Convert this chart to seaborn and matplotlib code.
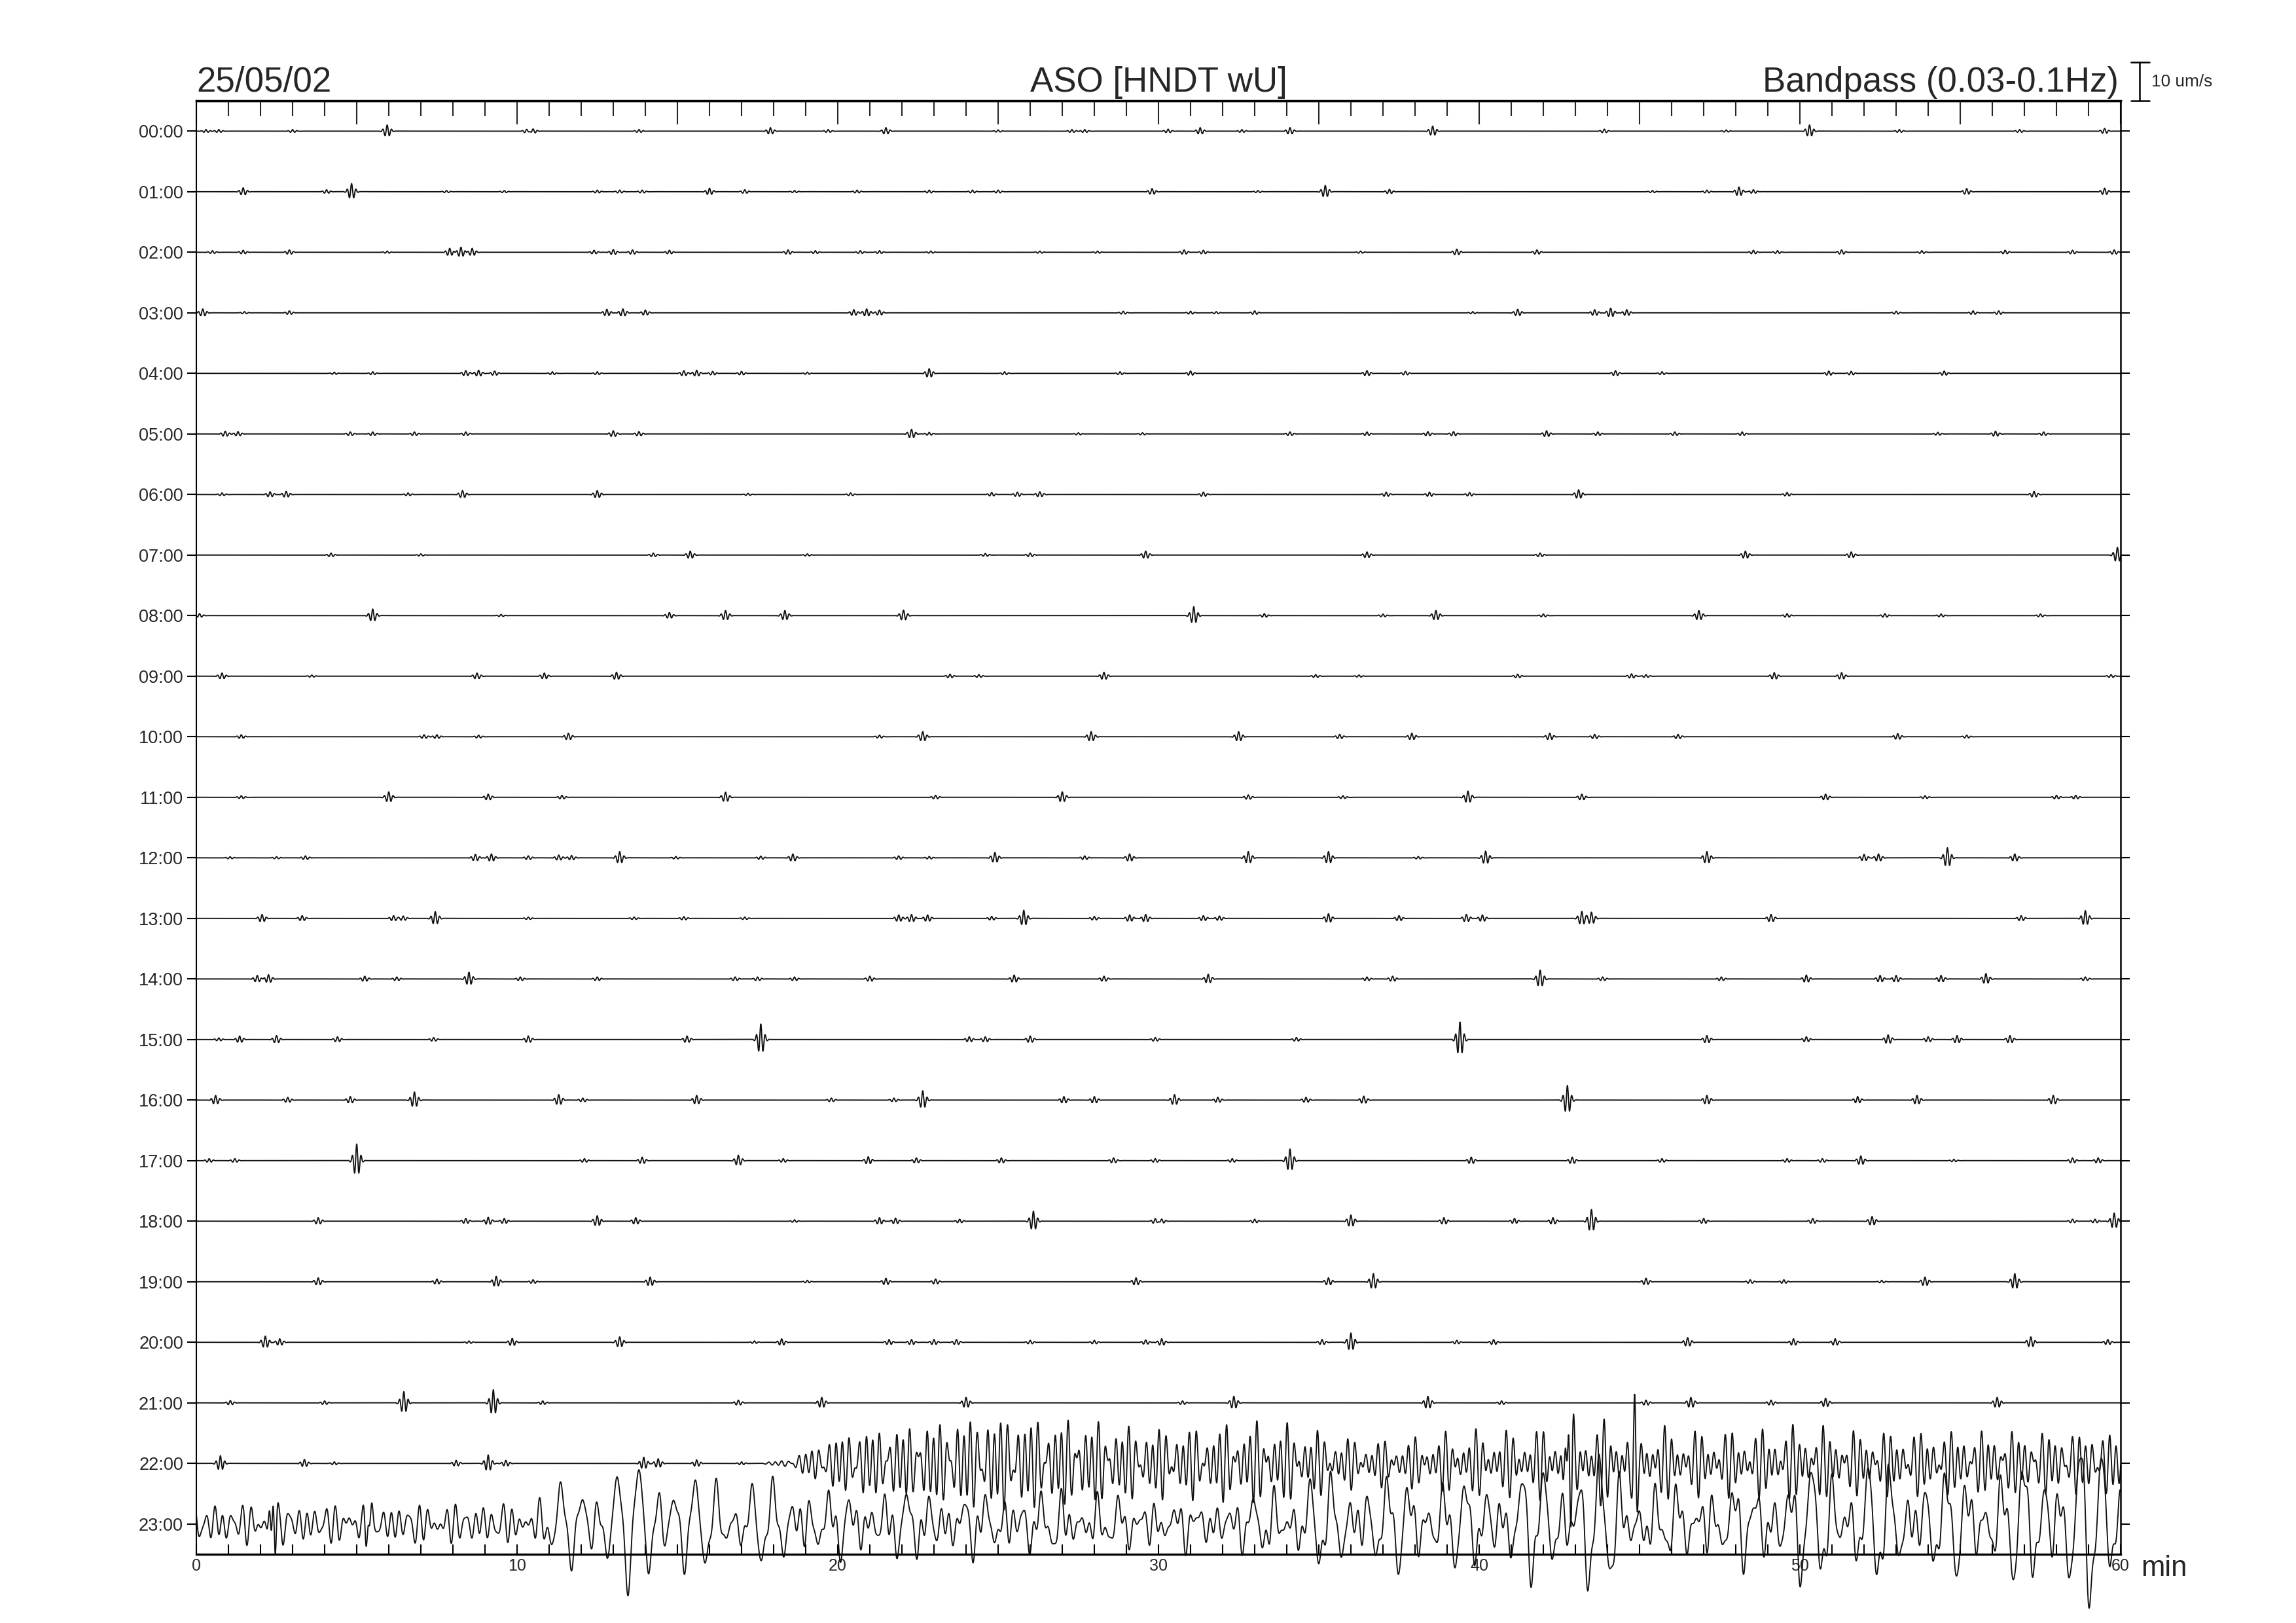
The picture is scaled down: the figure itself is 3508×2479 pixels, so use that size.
import numpy as np
import pandas as pd
import matplotlib
matplotlib.use("Agg")
import matplotlib.pyplot as plt
import seaborn as sns
from matplotlib.ticker import MultipleLocator

# --- header texts ---
DATE_LABEL = "25/05/02"
STATION = "ASO [HNDT wU]"
FILTER_LABEL = "Bandpass (0.03-0.1Hz)"
SCALE_UMS = 10
HOURS = [f"{h:02d}:00" for h in range(24)]
X_TICKS = [0, 10, 20, 30, 40, 50, 60]

# --- discrete wave packets per hour: (minute, peak amplitude in um/s) ---
EV_00 = [(0.3, 0.4), (0.7, 0.4), (3.0, 0.4), (5.95, 1.6), (10.3, 0.5), (10.5, 0.6), (13.8, 0.4),
         (17.9, 0.9), (19.7, 0.4), (21.5, 0.9), (25.0, 0.3), (27.3, 0.4), (27.7, 0.4), (30.3, 0.5),
         (31.3, 0.9), (32.6, 0.4), (34.1, 0.9), (38.55, 1.3), (43.9, 0.5), (47.7, 0.3), (50.3, 1.6),
         (53.1, 0.4), (56.85, 0.4), (59.5, 0.7)]
EV_01 = [(1.46, 1.0), (4.06, 0.5), (4.84, 2.1), (7.8, 0.3), (9.6, 0.3), (12.5, 0.4), (13.2, 0.4),
         (13.9, 0.4), (16.0, 0.9), (17.1, 0.5), (18.65, 0.3), (20.6, 0.4), (22.85, 0.4), (24.2, 0.4),
         (25.0, 0.4), (29.8, 0.8), (33.1, 0.3), (35.2, 1.6), (37.2, 0.6), (45.4, 0.3), (47.1, 0.4),
         (48.1, 1.2), (48.55, 0.5), (55.2, 0.8), (59.5, 0.9)]
EV_02 = [(0.5, 0.4), (1.46, 0.5), (2.9, 0.6), (5.95, 0.3), (7.9, 1.0), (8.25, 1.3), (8.6, 1.0),
         (12.4, 0.5), (13.0, 0.7), (13.6, 0.6), (14.75, 0.5), (18.45, 0.6), (19.3, 0.4), (20.7, 0.4),
         (21.3, 0.4), (22.9, 0.3), (26.3, 0.3), (28.1, 0.3), (30.8, 0.6), (31.4, 0.5), (36.3, 0.3),
         (39.3, 0.8), (41.8, 0.6), (48.55, 0.5), (49.3, 0.4), (51.3, 0.6), (53.8, 0.4), (56.4, 0.5),
         (58.5, 0.5), (59.8, 0.6)]
EV_03 = [(0.2, 1.0), (1.5, 0.3), (2.9, 0.5), (12.8, 0.9), (13.3, 1.0), (14.0, 0.7), (20.5, 0.8),
         (20.9, 1.0), (21.3, 0.7), (28.9, 0.4), (31.0, 0.4), (31.8, 0.3), (33.0, 0.5), (39.8, 0.3),
         (41.2, 0.9), (43.6, 0.8), (44.1, 1.2), (44.6, 0.8), (53.0, 0.4), (55.4, 0.5), (56.2, 0.5)]
EV_04 = [(4.3, 0.3), (5.5, 0.4), (8.4, 0.7), (8.8, 0.8), (9.3, 0.6), (11.1, 0.4), (12.5, 0.4),
         (15.2, 0.7), (15.6, 0.8), (16.1, 0.5), (17.0, 0.5), (19.05, 0.3), (22.85, 1.2), (25.2, 0.4),
         (28.8, 0.4), (31.0, 0.6), (36.5, 0.7), (37.7, 0.5), (44.25, 0.7), (45.7, 0.4), (50.9, 0.6),
         (51.6, 0.5), (54.5, 0.6)]
EV_05 = [(0.9, 0.7), (1.3, 0.6), (4.8, 0.5), (5.5, 0.5), (6.8, 0.5), (8.4, 0.5), (13.0, 0.8),
         (13.8, 0.6), (22.3, 1.2), (22.85, 0.4), (27.5, 0.3), (29.5, 0.3), (34.1, 0.5), (36.5, 0.5),
         (38.4, 0.6), (39.2, 0.6), (42.1, 0.8), (43.7, 0.5), (46.1, 0.5), (48.2, 0.5), (54.3, 0.4),
         (56.1, 0.7), (57.6, 0.5)]
EV_06 = [(0.8, 0.4), (2.3, 0.7), (2.8, 0.8), (6.6, 0.4), (8.3, 1.0), (12.5, 1.0), (17.2, 0.3),
         (20.4, 0.4), (24.8, 0.5), (25.6, 0.6), (26.3, 0.7), (31.4, 0.6), (37.1, 0.6), (38.45, 0.6),
         (39.7, 0.5), (43.1, 1.2), (49.6, 0.5), (57.3, 0.8)]
EV_07 = [(4.2, 0.5), (7.0, 0.3), (14.25, 0.5), (15.4, 1.0), (19.05, 0.3), (24.6, 0.4), (26.0, 0.5),
         (29.6, 1.0), (36.5, 0.8), (41.9, 0.5), (48.3, 1.0), (51.6, 0.8), (59.9, 2.0)]
EV_08 = [(0.1, 0.5), (5.5, 1.7), (9.5, 0.3), (14.75, 0.8), (16.5, 1.3), (18.35, 1.3), (22.05, 1.4),
         (31.1, 2.3), (33.3, 0.5), (37.0, 0.4), (38.65, 1.3), (42.0, 0.4), (46.85, 1.3), (49.6, 0.5),
         (52.65, 0.5), (54.4, 0.4), (57.5, 0.4)]
EV_09 = [(0.8, 0.8), (3.6, 0.3), (8.75, 0.8), (10.85, 0.8), (13.1, 1.0), (23.5, 0.5), (24.4, 0.4),
         (28.3, 1.0), (34.9, 0.4), (36.25, 0.3), (41.2, 0.5), (44.75, 0.6), (45.2, 0.4), (49.2, 0.9),
         (51.3, 0.9), (59.7, 0.4)]
EV_10 = [(1.4, 0.5), (7.1, 0.5), (7.5, 0.5), (8.8, 0.4), (11.6, 0.9), (21.3, 0.4), (22.65, 1.3),
         (27.9, 1.3), (32.5, 1.3), (35.65, 0.6), (37.9, 0.9), (42.2, 0.9), (43.6, 0.6), (46.2, 0.6),
         (53.05, 0.8), (55.2, 0.4)]
EV_11 = [(1.4, 0.4), (6.0, 1.4), (9.1, 0.8), (11.4, 0.5), (16.5, 1.3), (23.05, 0.5), (27.0, 1.4),
         (32.8, 0.6), (35.75, 0.4), (39.65, 1.6), (43.2, 0.8), (50.8, 0.8), (53.9, 0.4), (58.0, 0.5),
         (58.6, 0.5)]
EV_12 = [(1.05, 0.3), (2.5, 0.3), (3.4, 0.5), (8.7, 0.9), (9.2, 1.0), (10.35, 0.5), (11.3, 0.7),
         (11.7, 0.6), (13.2, 1.6), (14.95, 0.35), (17.6, 0.45), (18.6, 1.0), (21.9, 0.5), (22.85, 0.35),
         (24.9, 1.4), (27.7, 0.5), (29.1, 1.0), (32.8, 1.6), (35.3, 1.6), (38.1, 0.35), (40.2, 1.75),
         (47.1, 1.6), (52.0, 0.9), (52.45, 1.0), (54.6, 2.6), (56.7, 1.0)]
EV_13 = [(2.05, 1.0), (3.3, 0.7), (6.15, 0.7), (6.45, 0.6), (7.45, 1.75), (10.35, 0.35), (13.65, 0.35),
         (15.2, 0.45), (17.1, 0.35), (21.9, 0.9), (22.3, 1.0), (22.8, 0.9), (24.8, 0.5), (25.8, 2.1),
         (28.0, 0.5), (29.1, 0.9), (29.6, 1.0), (31.4, 0.7), (31.9, 0.6), (35.3, 1.2), (37.5, 0.7),
         (39.6, 1.0), (40.1, 0.9), (43.2, 1.8), (43.5, 1.6), (49.1, 1.0), (56.9, 0.7), (58.9, 2.0)]
EV_14 = [(1.9, 0.9), (2.25, 1.1), (5.25, 0.7), (6.25, 0.5), (8.5, 1.75), (10.1, 0.5), (12.5, 0.5),
         (16.8, 0.5), (17.5, 0.5), (18.65, 0.5), (21.0, 0.7), (25.5, 1.0), (28.3, 0.7), (31.55, 1.2),
         (36.5, 0.5), (37.3, 0.7), (41.9, 2.3), (43.85, 0.5), (47.55, 0.5), (50.2, 1.0), (52.5, 0.9),
         (53.0, 0.9), (54.4, 0.9), (55.8, 1.4), (58.9, 0.5)]
EV_15 = [(0.7, 0.4), (1.35, 0.9), (2.5, 1.0), (4.4, 0.7), (7.4, 0.5), (10.35, 0.9), (15.3, 0.9),
         (17.6, 4.0), (24.1, 0.7), (24.6, 0.7), (26.0, 0.9), (29.9, 0.5), (34.3, 0.5), (39.4, 4.5),
         (47.1, 1.0), (50.2, 0.7), (52.75, 1.2), (54.0, 0.7), (54.9, 1.0), (56.55, 1.0)]
EV_16 = [(0.6, 1.2), (2.85, 0.7), (4.8, 0.9), (6.8, 2.1), (11.3, 1.4), (12.05, 0.5), (15.6, 1.2),
         (19.8, 0.5), (21.75, 0.5), (22.65, 2.4), (27.05, 0.9), (28.0, 0.9), (30.5, 1.4), (31.85, 0.7),
         (34.6, 0.7), (36.4, 1.0), (42.75, 3.8), (47.1, 1.2), (51.8, 0.9), (53.65, 1.2), (57.9, 1.2)]
EV_17 = [(0.4, 0.5), (1.2, 0.5), (5.0, 4.3), (12.1, 0.5), (13.9, 0.9), (16.9, 1.4), (18.3, 0.5),
         (20.95, 1.0), (22.45, 0.7), (25.1, 0.7), (28.6, 0.7), (29.9, 0.5), (32.3, 0.5), (34.1, 3.0),
         (39.75, 0.9), (42.9, 0.9), (45.7, 0.5), (49.6, 0.5), (50.7, 0.5), (51.9, 1.2), (54.8, 0.35),
         (58.5, 0.7), (59.3, 0.7)]
EV_18 = [(3.8, 0.9), (8.4, 0.7), (9.1, 1.0), (9.6, 0.7), (12.5, 1.4), (13.7, 0.9), (18.65, 0.35),
         (21.3, 0.9), (21.8, 0.8), (23.8, 0.5), (26.1, 2.6), (29.9, 0.7), (30.1, 0.6), (33.0, 0.5),
         (36.0, 1.6), (38.9, 0.9), (41.1, 0.7), (42.3, 0.9), (43.5, 3.0), (47.0, 0.7), (50.4, 0.7),
         (52.25, 1.2), (58.5, 0.5), (59.2, 0.5), (59.8, 2.1)]
EV_19 = [(3.8, 1.0), (7.5, 0.7), (9.35, 1.4), (10.5, 0.5), (14.15, 1.2), (19.05, 0.35), (21.5, 0.9),
         (23.05, 0.7), (29.3, 1.0), (35.3, 1.0), (36.7, 2.1), (45.2, 0.9), (48.45, 0.5), (49.5, 0.5),
         (52.55, 0.35), (53.9, 1.2), (56.7, 2.1)]
EV_20 = [(2.15, 1.6), (2.6, 0.9), (8.5, 0.35), (9.85, 1.0), (13.2, 1.4), (17.4, 0.35), (18.25, 0.9),
         (21.6, 0.7), (22.3, 0.7), (23.0, 0.7), (23.7, 0.7), (26.0, 0.5), (28.0, 0.5), (29.6, 0.6),
         (30.1, 0.9), (35.1, 0.7), (36.0, 2.4), (39.3, 0.5), (40.45, 0.7), (46.5, 1.2), (49.8, 0.9),
         (51.1, 0.9), (57.2, 1.4), (59.6, 0.7)]
EV_21 = [(1.06, 0.6), (4.0, 0.5), (6.47, 2.9), (9.26, 3.4), (10.8, 0.5), (16.9, 0.7), (19.5, 1.4),
         (24.0, 1.4), (30.75, 0.5), (32.35, 1.7), (38.4, 1.7), (40.7, 0.5), (45.2, 0.7), (46.6, 1.4),
         (49.1, 0.7), (50.8, 1.2), (56.15, 1.4)]
EV_22 = [(0.75, 2.0), (3.37, 1.0), (4.3, 0.4), (8.1, 0.8), (9.1, 2.2), (9.65, 0.8), (13.95, 1.6),
         (14.4, 1.2), (15.6, 0.9), (17.0, 0.4), (42.8, 10.0), (44.85, 7.0)]
EV_23 = [(2.4, 6.0), (5.35, 3.0)]

# --- continuous tremor envelopes, one value per minute (um/s) ---
TREMOR_22 = [0] * 18 + [1.0, 5, 8, 8, 9, 10, 11, 11, 10, 10, 9, 8, 8, 8, 9, 9, 8, 6, 5, 5, 6, 7, 7, 7,
                        8, 9, 9, 8, 7, 7, 7, 8, 8, 7, 7, 7, 7, 7, 7, 7, 7, 7]
FAST_23 = [4.5] * 11 + [3] * 7 + [4.5] * 10 + [4] * 5 + [4.5] * 10 + [5] * 17
SLOW_23 = [0.8] * 11 + [9, 12, 13, 16, 9, 10, 9, 7, 6, 5, 6, 6, 5, 5, 5, 5, 5, 4, 4, 3, 3, 4, 6, 9, 9,
                        9, 9, 10, 8, 9, 11, 12, 15, 10, 6, 6, 7, 7, 11, 12, 12, 12, 10, 10, 11, 11, 14, 17, 17]

EVENTS = [EV_00, EV_01, EV_02, EV_03, EV_04, EV_05, EV_06, EV_07, EV_08, EV_09, EV_10, EV_11,
          EV_12, EV_13, EV_14, EV_15, EV_16, EV_17, EV_18, EV_19, EV_20, EV_21, EV_22, EV_23]

ROW_PER_UMS = 0.0638  # 10 um/s bar is 0.638 of the hour spacing
t = np.arange(0, 60.0001, 0.005)
mid = np.arange(60) + 0.5


def packets(events, period=0.14, width=0.09):
    s = np.zeros_like(t)
    for t0, a in events:
        u = t - t0
        s += a * np.cos(2 * np.pi * u / period) * np.exp(-0.5 * (u / width) ** 2)
    return s


def carrier(periods, weights, phases):
    c = np.zeros_like(t)
    for p, w, ph in zip(periods, weights, phases):
        c += w * np.cos(2 * np.pi * t / p + ph)
    return c


signals = [packets(ev) for ev in EVENTS]
signals[22] += np.interp(t, mid, TREMOR_22) * carrier([0.19, 0.235, 0.31], [0.55, 0.45, 0.3], [0, 1.3, 2.2])
signals[23] += np.interp(t, mid, FAST_23) * carrier([0.29, 0.22, 0.37], [0.55, 0.4, 0.3], [0.5, 2.1, 1.0])
signals[23] += np.interp(t, mid, SLOW_23) * carrier([0.6, 0.83], [0.7, 0.45], [0.4, 1.9])

df = pd.concat([
    pd.DataFrame({"minute": t, "y": h - ROW_PER_UMS * s, "hour": HOURS[h]})
    for h, s in enumerate(signals)
], ignore_index=True)

# --- figure ---
sns.set_style("ticks")
plt.rcParams["font.family"] = ["Liberation Sans", "DejaVu Sans"]

fig = plt.figure(figsize=(3508 / 300, 2479 / 300), dpi=300)
ax = fig.add_axes([0.08552, 0.04236, 0.8381, 0.8955])

sns.lineplot(data=df, x="minute", y="y", units="hour", estimator=None, sort=False,
             color="#111111", lw=0.45, clip_on=False, legend=False, ax=ax)

ax.set_xlim(0, 60)
ax.set_ylim(23.5, -0.5)
ax.set_xlabel("")
ax.set_ylabel("")

ax.set_yticks(range(24))
ax.set_yticklabels(HOURS)
ax.tick_params(axis="y", left=True, right=True, direction="out", length=3.3, width=0.5,
               labelsize=6.5, pad=1.5, color="black")

ax.set_xticks(X_TICKS)
ax.xaxis.set_minor_locator(MultipleLocator(1))
ax.tick_params(axis="x", which="both", bottom=True, top=False, direction="in",
               length=3.6, width=0.5, labelsize=6, pad=1.5, color="black")

top = ax.secondary_xaxis("top")
top.xaxis.set_major_locator(MultipleLocator(5))
top.xaxis.set_minor_locator(MultipleLocator(1))
top.tick_params(which="major", direction="in", length=8.6, width=0.5, labeltop=False)
top.tick_params(which="minor", direction="in", length=5.5, width=0.5)
top.spines["top"].set_linewidth(0.8)

for side, lw in [("left", 0.5), ("right", 0.6), ("top", 0.8), ("bottom", 0.8)]:
    ax.spines[side].set_visible(True)
    ax.spines[side].set_linewidth(lw)
    ax.spines[side].set_color("black")

# scale bar (10 um/s)
y0 = -0.5
y1 = -0.5 - SCALE_UMS * ROW_PER_UMS
ax.plot([60.6, 60.6], [y0, y1], color="black", lw=0.6, clip_on=False)
ax.plot([60.32, 60.9], [y0, y0], color="black", lw=0.6, clip_on=False)
ax.plot([60.32, 60.9], [y1, y1], color="black", lw=0.6, clip_on=False)
ax.text(60.95, (y0 + y1) / 2, f"{SCALE_UMS} um/s", fontsize=6.3, va="center", ha="left")

# header texts
ty = 1 - 140 / 2479
fig.text(300 / 3508, ty, DATE_LABEL, fontsize=12.7, ha="left", va="baseline")
fig.text(1770 / 3508, ty, STATION, fontsize=12.7, ha="center", va="baseline")
fig.text(3237 / 3508, ty, FILTER_LABEL, fontsize=12.7, ha="right", va="baseline")
fig.text(3271 / 3508, 1 - 2407 / 2479, "min", fontsize=10.5, ha="left", va="baseline")

fig.savefig("out.png", dpi=300)
